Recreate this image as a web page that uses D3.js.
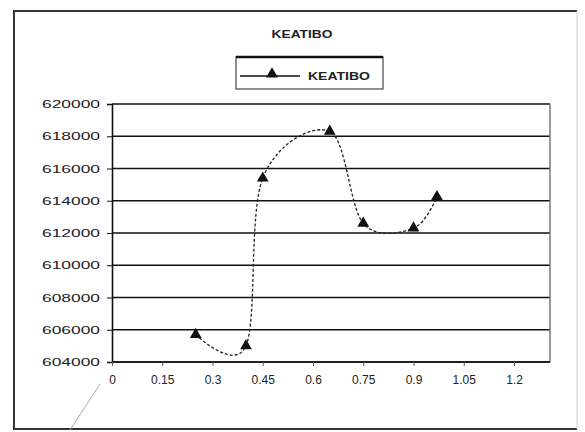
<!DOCTYPE html>
<html>
<head>
<meta charset="utf-8">
<script src="https://cdn.jsdelivr.net/npm/d3@7"></script>
<style>
  body { margin: 0; background: #fff; }
  text { font-family: "Liberation Sans", Arial, sans-serif; fill: #222; }
</style>
</head>
<body>
<div id="chart"></div>
<script>
// data
var seriesName = "KEATIBO";
var xValues = [0.25, 0.40, 0.45, 0.65, 0.75, 0.90, 0.97];
var yValues = [605700, 605000, 615400, 618300, 612600, 612300, 614250];
var xTicks = [0, 0.15, 0.3, 0.45, 0.6, 0.75, 0.9, 1.05, 1.2];
var yTicks = [604000, 606000, 608000, 610000, 612000, 614000, 616000, 618000, 620000];

var data = xValues.map(function (d, i) { return { x: d, y: yValues[i] }; });

// set the dimensions and margins of the graph
var margin = { top: 104, right: 35, bottom: 70, left: 112 },
    width = 585 - margin.left - margin.right,
    height = 432 - margin.top - margin.bottom;

var root = d3.select("#chart")
    .append("svg")
    .attr("width", 585)
    .attr("height", 432);

// outer chart frame
root.append("path")
    .attr("d", "M577,11 H14 V429 H577")
    .attr("fill", "none")
    .attr("stroke", "#333")
    .attr("stroke-width", 2);
root.append("line")
    .attr("x1", 577).attr("x2", 577).attr("y1", 11).attr("y2", 429)
    .attr("stroke", "#ccc");

// title
root.append("text")
    .attr("x", 302)
    .attr("y", 38)
    .attr("text-anchor", "middle")
    .attr("font-size", 11)
    .attr("font-weight", "bold")
    .attr("textLength", 61)
    .attr("lengthAdjust", "spacingAndGlyphs")
    .text(seriesName);

var svg = root.append("g")
    .attr("transform", "translate(" + margin.left + "," + margin.top + ")");

// X axis: 0..1.2 covers 402px, the plot runs a bit past it
var x = d3.scaleLinear()
    .domain([0, 1.2])
    .range([0, 402]);

var y = d3.scaleLinear()
    .domain([604000, 620000])
    .range([height, 0]);

// horizontal gridlines
svg.selectAll(".grid")
    .data(yTicks)
    .enter()
    .append("line")
    .attr("class", "grid")
    .attr("x1", 0)
    .attr("x2", width)
    .attr("y1", function (d) { return y(d); })
    .attr("y2", function (d) { return y(d); })
    .attr("stroke", "#111")
    .attr("stroke-width", 1.6);

// right plot border
svg.append("line")
    .attr("x1", width).attr("x2", width)
    .attr("y1", 0).attr("y2", height)
    .attr("stroke", "#777")
    .attr("stroke-width", 1.5);

// Y axis
var yAxis = svg.append("g")
    .call(d3.axisLeft(y).tickValues(yTicks).tickSize(5).tickFormat(d3.format("d")));
yAxis.select(".domain").attr("stroke", "#111").attr("stroke-width", 1.6);
yAxis.selectAll("line").attr("stroke", "#111");
yAxis.selectAll("text")
    .attr("x", -12)
    .attr("font-size", 11)
    .attr("textLength", 58)
    .attr("lengthAdjust", "spacingAndGlyphs");

// X axis
var xAxis = svg.append("g")
    .attr("transform", "translate(0," + height + ")")
    .call(d3.axisBottom(x).tickValues(xTicks).tickSize(4).tickFormat(function (d) { return String(+d.toFixed(2)); }));
xAxis.select(".domain").attr("d", "M0,0H" + width).attr("stroke", "#111").attr("stroke-width", 1.6);
xAxis.selectAll("line").attr("stroke", "#555");
xAxis.selectAll("text")
    .attr("y", 13)
    .attr("font-size", 12);

// smoothed series line
var line = d3.line()
    .x(function (d) { return x(d.x); })
    .y(function (d) { return y(d.y); })
    .curve(d3.curveCardinal.tension(0));

svg.append("path")
    .datum(data)
    .attr("fill", "none")
    .attr("stroke", "#222")
    .attr("stroke-width", 1.3)
    .attr("stroke-dasharray", "3,2")
    .attr("d", line);

// markers
var marker = d3.symbol().type(d3.symbolTriangle).size(60);
svg.selectAll(".pt")
    .data(data)
    .enter()
    .append("path")
    .attr("class", "pt")
    .attr("transform", function (d) { return "translate(" + x(d.x) + "," + y(d.y) + ")"; })
    .attr("d", marker)
    .attr("fill", "#111");

// legend
var legend = root.append("g").attr("transform", "translate(236,57)");
legend.append("rect")
    .attr("width", 147)
    .attr("height", 32)
    .attr("fill", "#fff")
    .attr("stroke", "#444")
    .attr("stroke-width", 1.2);
legend.append("line")
    .attr("x1", 0).attr("x2", 147)
    .attr("y1", 0).attr("y2", 0)
    .attr("stroke", "#111")
    .attr("stroke-width", 2.5);
legend.append("line")
    .attr("x1", 4).attr("x2", 64)
    .attr("y1", 19).attr("y2", 19)
    .attr("stroke", "#111")
    .attr("stroke-width", 1.3);
legend.append("path")
    .attr("transform", "translate(36,17)")
    .attr("d", marker)
    .attr("fill", "#111");
legend.append("text")
    .attr("x", 72)
    .attr("y", 23)
    .attr("font-size", 11)
    .attr("font-weight", "bold")
    .attr("textLength", 62)
    .attr("lengthAdjust", "spacingAndGlyphs")
    .text(seriesName);

// stray leader line at the bottom left
root.append("line")
    .attr("x1", 100).attr("y1", 384)
    .attr("x2", 70).attr("y2", 430)
    .attr("stroke", "#aaa");
</script>
</body>
</html>
